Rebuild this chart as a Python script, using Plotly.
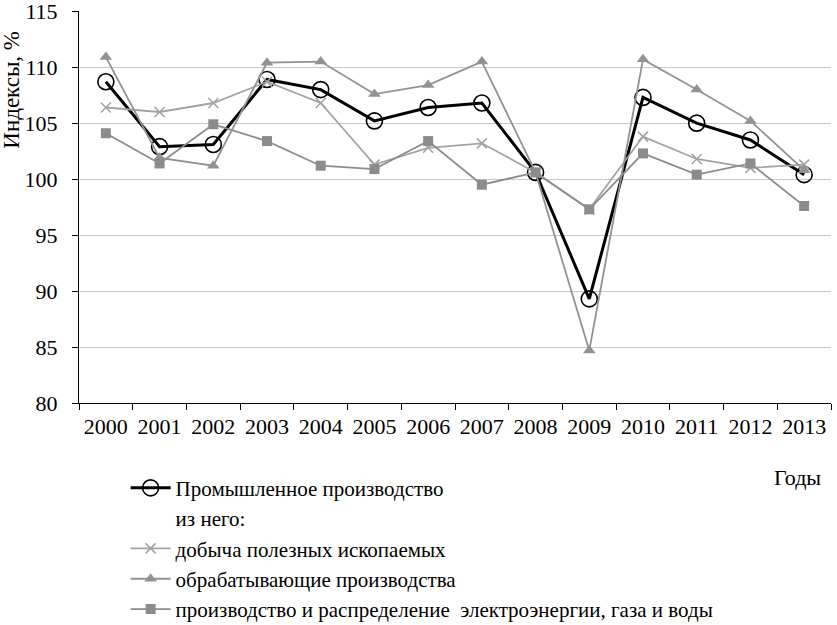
import plotly.graph_objects as go

years = ["2000", "2001", "2002", "2003", "2004", "2005", "2006", "2007",
         "2008", "2009", "2010", "2011", "2012", "2013"]
industry = [108.7, 102.9, 103.1, 108.9, 108.0, 105.2, 106.4, 106.8,
            100.6, 89.3, 107.3, 105.0, 103.5, 100.4]
mining = [106.4, 106.0, 106.8, 108.7, 106.8, 101.3, 102.8, 103.2,
          100.6, 97.3, 103.8, 101.8, 101.0, 101.3]
manufacturing = [110.9, 101.9, 101.2, 110.4, 110.5, 107.6, 108.4, 110.5,
                 100.6, 84.7, 110.7, 108.0, 105.2, 100.8]
electricity = [104.1, 101.4, 104.9, 103.4, 101.2, 100.9, 103.4, 99.5,
               100.6, 97.3, 102.3, 100.4, 101.4, 97.6]

names = ["Промышленное производство",
         "из него:",
         "добыча полезных ископаемых",
         "обрабатывающие производства",
         "производство и распределение  электроэнергии, газа и воды"]

FONT = "Times New Roman"

fig = go.Figure()
fig.add_trace(go.Scatter(
    x=years, y=industry, name=names[0], mode="lines+markers",
    line=dict(color="black", width=3),
    marker=dict(symbol="circle-open", size=16, color="black", line=dict(width=1.6)),
    legendgroup="g1"))
fig.add_trace(go.Scatter(
    x=[None], y=[None], name=names[1], mode="lines",
    line=dict(color="rgba(0,0,0,0)", width=0), legendgroup="g2"))
fig.add_trace(go.Scatter(
    x=years, y=mining, name=names[2], mode="lines+markers",
    line=dict(color="#a3a3a3", width=1.8),
    marker=dict(symbol="x-thin-open", size=10, color="#a3a3a3", line=dict(width=1.6, color="#a3a3a3")),
    legendgroup="g3"))
fig.add_trace(go.Scatter(
    x=years, y=manufacturing, name=names[3], mode="lines+markers",
    line=dict(color="#929292", width=1.8),
    marker=dict(symbol="triangle-up", size=11, color="#929292"),
    legendgroup="g4"))
fig.add_trace(go.Scatter(
    x=years, y=electricity, name=names[4], mode="lines+markers",
    line=dict(color="#8c8c8c", width=1.8),
    marker=dict(symbol="square", size=10, color="#8c8c8c"),
    legendgroup="g5"))

fig.update_layout(
    width=837, height=625,
    margin=dict(l=79, r=6, t=11, b=222, autoexpand=False),
    paper_bgcolor="white", plot_bgcolor="white",
    font=dict(family=FONT, color="black", size=21),
    showlegend=True,
    legend=dict(
        x=0.062, xanchor="left", y=-0.165, yanchor="top",
        font=dict(family=FONT, size=21, color="black"),
        tracegroupgap=0, itemwidth=40,
        bgcolor="rgba(0,0,0,0)",
    ),
    xaxis=dict(
        type="category", range=[-0.5, 13.5], tickson="boundaries",
        ticks="outside", ticklen=6,
        tickcolor="black", showline=True, linecolor="black", linewidth=1,
        showgrid=False, tickfont=dict(family=FONT, size=22), tickangle=0,
        ticklabelstandoff=4, automargin=False,
    ),
    yaxis=dict(
        range=[80, 115.02], dtick=5, ticks="outside", ticklen=6, tickcolor="black",
        showline=True, linecolor="black", linewidth=1,
        showgrid=True, gridcolor="#c8c8c8", gridwidth=1.2,
        zeroline=False, tickfont=dict(family=FONT, size=22),
        ticklabelstandoff=10, automargin=False, ticklabeloverflow="allow",
    ),
    annotations=[
        dict(text="Индексы, %", textangle=-90, xref="paper", yref="paper",
             x=-0.09, y=0.80, xanchor="center", yanchor="middle",
             showarrow=False, font=dict(family=FONT, size=23)),
        dict(text="Годы", xref="paper", yref="paper",
             x=0.99, y=-0.19, xanchor="right", yanchor="middle",
             showarrow=False, font=dict(family=FONT, size=22)),
    ],
)

fig.write_html("out.html", config={"displayModeBar": False},
               post_script="document.body.style.margin='0';")
